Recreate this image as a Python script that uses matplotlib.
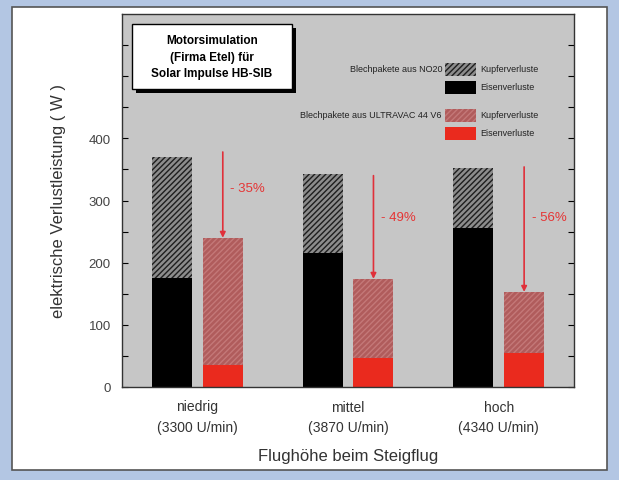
import matplotlib
matplotlib.use('Agg')
import matplotlib.pyplot as plt
from matplotlib.patches import Rectangle
import numpy as np

plt.rcParams['font.family'] = ['Liberation Sans', 'DejaVu Sans']

# data
categories = ['niedrig\n(3300 U/min)', 'mittel\n(3870 U/min)', 'hoch\n(4340 U/min)']
no20_iron = [175, 215, 255]
no20_total = [370, 342, 352]
uv_iron = [35, 46, 54]
uv_total = [240, 174, 153]
arrow_start = [378, 340, 354]
reduction = ['- 35%', '- 49%', '- 56%']
label_y = [320, 273, 273]

no20_copper = [t - i for t, i in zip(no20_total, no20_iron)]
uv_copper = [t - i for t, i in zip(uv_total, uv_iron)]

fig = plt.figure(figsize=(6.19, 4.81), dpi=100)
fig.patch.set_facecolor('#b3c6e3')

# white panel behind the chart
panel = Rectangle((12 / 619, 1 - 471 / 481), 595 / 619, 463 / 481,
                  transform=fig.transFigure, facecolor='white',
                  edgecolor='#555555', linewidth=1.2, zorder=-5)
fig.patches.append(panel)

ax = fig.add_axes([122 / 619, 1 - 388 / 481, 452 / 619, 373 / 481])
ax.set_facecolor('#c6c6c6')

x = np.arange(1, 4)
w = 0.265
off = 0.169

ax.bar(x - off, no20_iron, w, color='black', zorder=2)
ax.bar(x - off, no20_copper, w, bottom=no20_iron, color='#8c8c8c',
       edgecolor='#1e1e1e', linewidth=0, hatch='//////', zorder=2)
ax.bar(x + off, uv_iron, w, color='#ea2a1e', zorder=2)
ax.bar(x + off, uv_copper, w, bottom=uv_iron, color='#b05c5c',
       edgecolor='#c47878', linewidth=0, hatch='//////', zorder=2)

for xi, ys, ye, txt, ly in zip(x, arrow_start, uv_total, reduction, label_y):
    ax.annotate('', xy=(xi + off, ye), xytext=(xi + off, ys),
                arrowprops=dict(arrowstyle='-|>', color='#e0303a', lw=1.2,
                                mutation_scale=8, shrinkA=0, shrinkB=0),
                zorder=4)
    ax.text(xi + off + 0.05, ly, txt, color='#e53535', fontsize=9.5,
            ha='left', va='center', zorder=4)

ax.set_xlim(0.5, 3.5)
ax.set_ylim(0, 600)
ax.set_xticks(x)
ax.set_xticklabels(categories, fontsize=10, color='#333333', linespacing=1.6)
ax.tick_params(axis='x', length=0, pad=9)
ax.set_yticks([0, 100, 200, 300, 400, 500])
ax.set_yticklabels(['0', '100', '200', '300', '400', ''], fontsize=9.5, color='#444444')
ax.set_yticks(np.arange(50, 600, 100), minor=True)
ax.tick_params(axis='y', which='both', direction='in', right=True, length=4, width=0.8, pad=8)
ax.set_ylabel('elektrische Verlustleistung ( W )', fontsize=12, color='#333333', labelpad=16)
ax.set_xlabel('Flughöhe beim Steigflug', fontsize=12, color='#333333', labelpad=10)
for s in ax.spines.values():
    s.set_linewidth(1.0)
    s.set_color('#333333')


def fx(px):
    return px / 619


def fy(py):
    return 1 - py / 481


# title box with shadow
fig.patches.append(Rectangle((fx(136), fy(94)), fx(160), 65 / 481, transform=fig.transFigure,
                             facecolor='black', edgecolor='none', zorder=5))
fig.patches.append(Rectangle((fx(132), fy(90)), fx(160), 65 / 481, transform=fig.transFigure,
                             facecolor='white', edgecolor='black', linewidth=1, zorder=6))
fig.text(fx(212), fy(57.5), 'Motorsimulation\n(Firma Etel) für\nSolar Impulse HB-SIB',
         ha='center', va='center', fontsize=8.5, fontweight='bold', linespacing=1.5,
         zorder=7)

# custom legend
rows = [
    (70, 'Blechpakete aus NO20', dict(facecolor='#8c8c8c', edgecolor='#1e1e1e', hatch='//////'), 'Kupferverluste'),
    (88, None, dict(facecolor='black', edgecolor='black'), 'Eisenverluste'),
    (116, 'Blechpakete aus ULTRAVAC 44 V6', dict(facecolor='#b05c5c', edgecolor='#c47878', hatch='//////'), 'Kupferverluste'),
    (134, None, dict(facecolor='#ea2a1e', edgecolor='#ea2a1e'), 'Eisenverluste'),
]
for py, left, style, right in rows:
    fig.patches.append(Rectangle((fx(445), fy(py + 6.5)), fx(31), 13 / 481,
                                 transform=fig.transFigure, linewidth=0, zorder=6, **style))
    fig.text(fx(480), fy(py), right, fontsize=6.5, color='#222222', va='center', ha='left', zorder=7)
    if left:
        fig.text(fx(442), fy(py), left, fontsize=6.5, color='#222222', va='center', ha='right', zorder=7)

fig.savefig('out.png', dpi=100, facecolor=fig.get_facecolor())
